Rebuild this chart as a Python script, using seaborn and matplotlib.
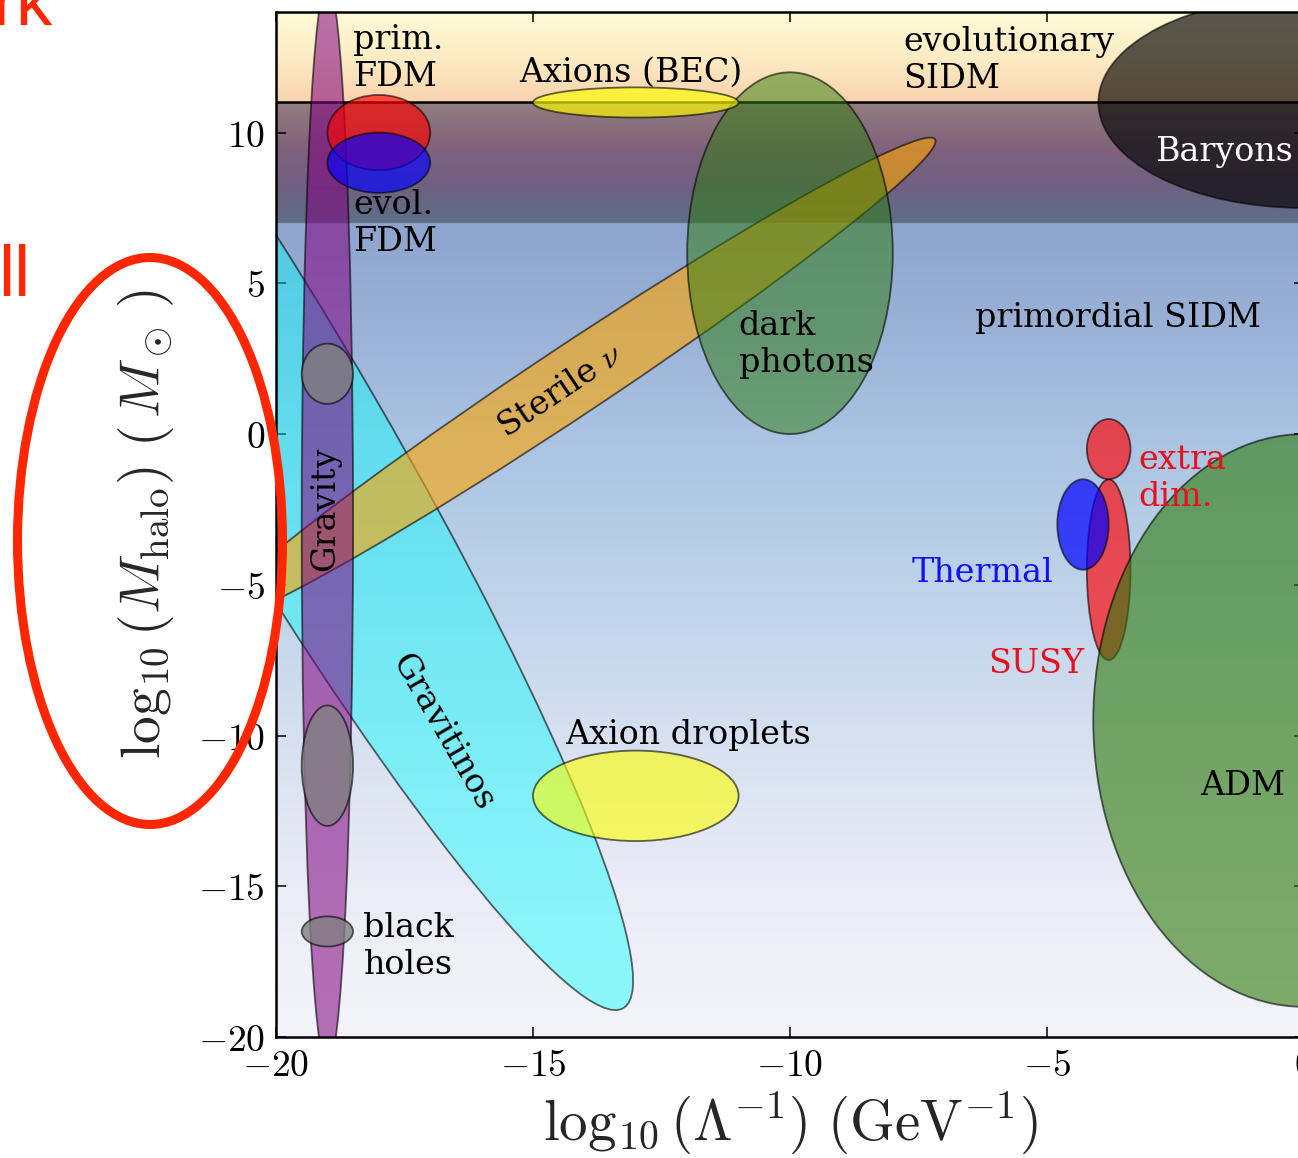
import numpy as np
import matplotlib
matplotlib.use("Agg")
import matplotlib.pyplot as plt
from matplotlib.patches import Ellipse
from matplotlib.colors import to_rgba
import seaborn as sns

# ---- candidate dark-matter regions in the (log10 1/Lambda, log10 M_halo) plane ----
region_names = ["Gravitinos", "Sterile nu", "Gravity", "dark photons",
                "prim. FDM", "evol. FDM", "Axions (BEC)", "Axion droplets",
                "SUSY", "extra dim.", "Thermal", "ADM",
                "black holes a", "black holes b", "black holes c", "Baryons"]
region_x = [-20.0, -14.25, -19.0, -10.0, -18.0, -18.0, -13.0, -13.0,
            -3.8, -3.8, -4.3, 0.0, -19.0, -19.0, -19.0, 0.0]
region_y = [0.5, 1.76, -3.0, 6.0, 10.0, 9.0, 11.0, -12.0,
            -4.5, -0.5, -3.0, -9.5, 2.0, -11.0, -16.5, 11.0]
region_w = [41.4, 21.4, 1.0, 4.0, 2.0, 2.0, 4.0, 4.0,
            0.85, 0.85, 1.0, 8.2, 1.0, 1.0, 1.0, 8.0]
region_h = [4.1, 1.84, 36.0, 12.0, 2.5, 2.0, 1.0, 3.0,
            6.0, 2.0, 3.0, 19.0, 2.0, 4.0, 1.0, 7.0]
region_angle = [-71.2, 48.8, 0, 0, 0, 0, 0, 0, 0, 0, 0, 0, 0, 0, 0, 0]
region_color = ["cyan", "orange", "purple", "#2d7b0a", "red", "blue", "yellow", "yellow",
                "red", "red", "blue", "#2d7b0a", "gray", "gray", "gray", "black"]
region_alpha = [0.42, 0.6, 0.55, 0.5, 0.65, 0.65, 0.65, 0.6,
                0.65, 0.65, 0.7, 0.6, 0.8, 0.8, 0.8, 0.65]

# ---- region labels ----
label_texts = ["prim.\nFDM", "evol.\nFDM", "Axions (BEC)", "evolutionary\nSIDM", "Baryons",
               "dark\nphotons", "primordial SIDM", r"Sterile $\nu$", "Gravity", "Gravitinos",
               "Axion droplets", "black\nholes", "extra\ndim.", "Thermal", "SUSY", "ADM"]
label_x = [-18.5, -18.5, -13.1, -7.8, -2.9, -11.0, -6.4, -14.47, -19.05, -16.75,
           -11.98, -18.3, -3.23, -4.88, -4.28, -2.02]
label_y = [12.45, 7.0, 12.0, 12.4, 9.37, 2.98, 3.84, 1.42, -2.48, -9.9,
           -9.97, -17.0, -1.49, -4.6, -7.62, -11.66]
label_rot = [0, 0, 0, 0, 0, 0, 0, 33.8, 90, -60, 0, 0, 0, 0, 0, 0]
label_ha = ["left", "left", "center", "left", "left", "left", "left", "center", "center",
            "center", "center", "left", "left", "right", "right", "left"]
label_color = ["black", "black", "black", "black", "white", "black", "black", "black",
               "black", "black", "black", "black", "#e8101c", "#1010f0", "#e8101c", "black"]

x_ticks = [-20, -15, -10, -5, 0]
y_ticks = [-20, -15, -10, -5, 0, 5, 10]
x_limits = (-20, 0)
y_limits = (-20, 14)
boundary_mass = 11

# ---- style ----
sns.set_theme(style="ticks")
plt.rcParams["font.family"] = ["DejaVu Serif"]
plt.rcParams["mathtext.fontset"] = "cm"
plt.rcParams["axes.edgecolor"] = "black"
plt.rcParams["xtick.color"] = "black"
plt.rcParams["ytick.color"] = "black"

W, H = 1298, 1158
fig = plt.figure(figsize=(W / 100, H / 100), dpi=100)
fig.patch.set_facecolor("white")
ax = fig.add_axes([276 / W, 121 / H, 1028 / W, 1025 / H])

# vertical colour wash behind the regions
grad_stops_y = [-20, -15, -10, -5, 0, 3, 6.999, 7.001, 8.3, 9.5, 10.999, 11.001, 12.5, 14]
grad_stops_rgb = np.array([
    (244, 244, 250), (234, 236, 246), (214, 224, 240), (190, 210, 234), (170, 195, 226),
    (156, 180, 216), (142, 164, 206), (94, 110, 134), (112, 96, 130), (128, 98, 124),
    (148, 124, 126), (248, 210, 172), (252, 236, 196), (255, 251, 214)]) / 255.0
grad_y = np.linspace(y_limits[0], y_limits[1], 1700)
grad_img = np.stack([np.interp(grad_y, grad_stops_y, grad_stops_rgb[:, k]) for k in range(3)],
                    axis=-1)[:, None, :]
ax.imshow(grad_img, extent=[x_limits[0], x_limits[1], y_limits[0], y_limits[1]],
          origin="lower", aspect="auto", interpolation="bilinear", zorder=0)

ax.axhline(boundary_mass, color="black", lw=1.8, zorder=1.5)

for i in range(len(region_names)):
    ax.add_patch(Ellipse((region_x[i], region_y[i]), region_w[i], region_h[i],
                         angle=region_angle[i],
                         facecolor=to_rgba(region_color[i], region_alpha[i]),
                         edgecolor=(0, 0, 0, 0.6), lw=1.3, zorder=2 + 0.01 * i))

for i in range(len(label_texts)):
    ax.text(label_x[i], label_y[i], label_texts[i], rotation=label_rot[i],
            ha=label_ha[i], va="center", rotation_mode="anchor",
            color=label_color[i], fontsize=24, zorder=5)

ax.set_xlim(*x_limits)
ax.set_ylim(*y_limits)
ax.set_xticks(x_ticks, labels=[f"${t}$" for t in x_ticks])
ax.set_yticks(y_ticks, labels=[f"${t}$" for t in y_ticks])
ax.tick_params(direction="in", length=7.5, width=1.1, top=True, right=True,
               labelsize=27, pad=8)
for sp in ax.spines.values():
    sp.set_linewidth(1.8)
    sp.set_color("black")

ax.set_xlabel(r"$\log_{10}(\Lambda^{-1})\ ({\rm GeV}^{-1})$", fontsize=41)
ax.xaxis.set_label_coords(0.5, -0.052)
ax.set_ylabel(r"$\log_{10}(M_{\rm halo})\ (\,M_\odot\,)$", fontsize=40)
ax.yaxis.set_label_coords(-0.097, 0.5)

# red highlight around the mass axis label, and slide text at the left margin
fig.add_artist(Ellipse((150 / W, 1 - 541 / H), 265 / W, 567 / H, transform=fig.transFigure,
                       fill=False, edgecolor="#ff2600", lw=6.5))
fig.text(52 / W, 1 - 25 / H, "rk", ha="right", va="baseline", color="#ff2600",
         fontsize=52, family=["Liberation Sans", "DejaVu Sans"])
fig.text(-2 / W, 1 - 296 / H, "ll", ha="left", va="baseline", color="#ff2600",
         fontsize=52, family=["Liberation Sans", "DejaVu Sans"])

fig.savefig("out.png", dpi=100)
